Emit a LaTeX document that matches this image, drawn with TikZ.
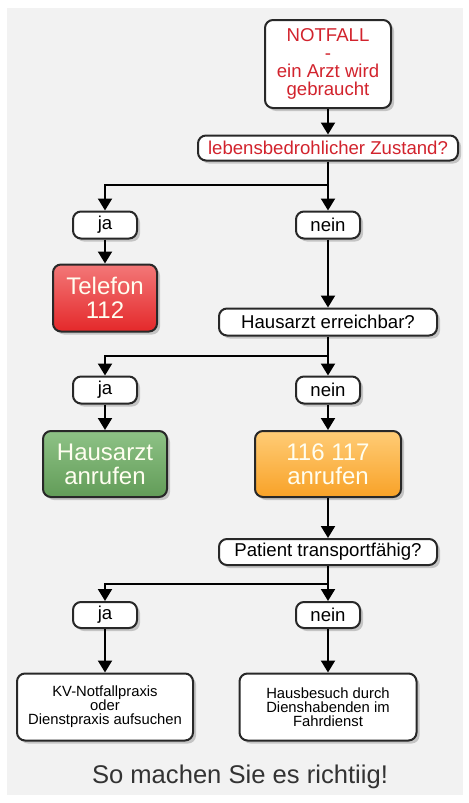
\documentclass[tikz,border=0pt]{standalone}
\usepackage{fontspec}
\setmainfont{Liberation Sans}
\usetikzlibrary{arrows.meta,shadows}
\definecolor{rcol}{RGB}{210,35,45}
\definecolor{bgcol}{RGB}{242,242,242}
\definecolor{framecol}{RGB}{40,40,40}
\definecolor{redtop}{RGB}{243,120,120}
\definecolor{redbot}{RGB}{228,40,42}
\definecolor{greentop}{RGB}{142,194,134}
\definecolor{greenbot}{RGB}{98,156,88}
\definecolor{orangetop}{RGB}{255,204,118}
\definecolor{orangebot}{RGB}{248,162,40}
\tikzset{every picture/.style={x=0.5pt,y=-0.5pt}}
\tikzset{box/.style={rectangle,rounded corners=4pt,draw=framecol,line width=1pt,fill=white,align=center,inner sep=0pt,drop shadow={shadow xshift=1.5pt,shadow yshift=-1.5pt,fill=black!35,opacity=.6}}}
\tikzset{txt/.style={font=\fontsize{9.3}{8.9}\selectfont}}
\tikzset{alert/.style={text=rcol}}
\tikzset{big/.style={text=white!94!yellow,font=\fontsize{12}{12}\selectfont}}
\tikzset{tiny/.style={font=\fontsize{7.4}{7}\selectfont}}
\tikzset{edge/.style={-{Triangle[width=7pt,length=6pt]},line width=1pt}}

\begin{document}
\begin{tikzpicture}
\useasboundingbox (0,0) rectangle (469,803);
\fill [white] (0,0) rectangle (469,803);
\fill [bgcol] (7,8) rectangle (463,795);

\node [box,txt,alert,minimum width=63pt,minimum height=44pt] (start) at (328,64) {NOTFALL\\-\\ein Arzt wird\\gebraucht};
\node [box,txt,alert,minimum width=130pt,minimum height=12.5pt] (q1) at (328,148) {lebensbedrohlicher Zustand?};

\node [box,txt,minimum width=32pt,minimum height=13.5pt] (ja1) at (105,225) {ja};
\node [box,txt,minimum width=32pt,minimum height=13.5pt] (nein1) at (328,225) {nein};
\node [box,big,top color=redtop,bottom color=redbot,minimum width=52pt,minimum height=33.5pt] (tel) at (105,298) {Telefon\\112};
\node [box,txt,minimum width=109pt,minimum height=13.5pt] (q2) at (328,322) {Hausarzt erreichbar?};

\node [box,txt,minimum width=32pt,minimum height=13.5pt] (ja2) at (105,390) {ja};
\node [box,txt,minimum width=32pt,minimum height=13.5pt] (nein2) at (328,390) {nein};
\node [box,big,top color=greentop,bottom color=greenbot,minimum width=62pt,minimum height=33pt] (hausarzt) at (105,464) {Hausarzt\\anrufen};
\node [box,big,top color=orangetop,bottom color=orangebot,minimum width=73pt,minimum height=33pt] (kv116) at (328,464) {116 117\\anrufen};
\node [box,txt,minimum width=109pt,minimum height=13pt] (q3) at (328,552) {Patient transportfähig?};

\node [box,txt,minimum width=32pt,minimum height=13pt] (ja3) at (105,615) {ja};
\node [box,txt,minimum width=32pt,minimum height=13pt] (nein3) at (328,615) {nein};
\node [box,tiny,minimum width=88pt,minimum height=33.5pt] (praxis) at (105,707) {KV-Notfallpraxis\\oder\\Dienstpraxis aufsuchen};
\node [box,tiny,minimum width=88.5pt,minimum height=33.5pt] (besuch) at (328,707) {Hausbesuch durch\\Dienshabenden im\\Fahrdienst};

\coordinate (s1) at (328,185);
\coordinate (s2) at (328,356);
\coordinate (s3) at (328,584);

\draw [edge] (start) -- (q1);

\draw [line width=1pt] (q1) -- (s1);
\draw [edge] (s1) -| (ja1);
\draw [edge] (s1) -- (nein1);

\draw [edge] (ja1) -- (tel);
\draw [edge] (nein1) -- (q2);

\draw [line width=1pt] (q2) -- (s2);
\draw [edge] (s2) -| (ja2);
\draw [edge] (s2) -- (nein2);

\draw [edge] (ja2) -- (hausarzt);
\draw [edge] (nein2) -- (kv116);
\draw [edge] (kv116) -- (q3);

\draw [line width=1pt] (q3) -- (s3);
\draw [edge] (s3) -| (ja3);
\draw [edge] (s3) -- (nein3);

\draw [edge] (ja3) -- (praxis);
\draw [edge] (nein3) -- (besuch);

\node [text=black!80,font=\fontsize{12.8}{14}\selectfont] (caption) at (240,777) {So machen Sie es richtiig!};
\end{tikzpicture}
\end{document}
